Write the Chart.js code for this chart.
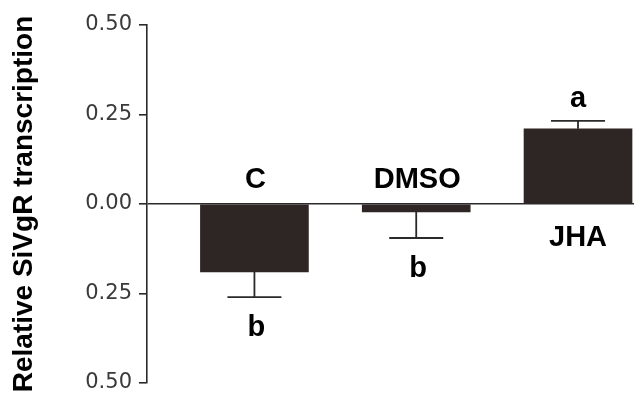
<!DOCTYPE html>
<html>
<head>
<meta charset="utf-8">
<script src="https://cdn.jsdelivr.net/npm/chart.js@4/dist/chart.umd.min.js"></script>
<style>
  html, body { margin: 0; padding: 0; background: #fff; }
  #wrap { width: 634px; height: 404px; }
</style>
</head>
<body>
<div id="wrap"><canvas id="barChart" width="634" height="404"></canvas></div>
<script>
const categories = ["C", "DMSO", "JHA"];
const meanValues = [-0.19, -0.022, 0.21];
const errorValues = [0.07, 0.073, 0.022];
const letters = ["b", "b", "a"];
const tickLabels = ["0.50", "0.25", "0.00", "0.25", "0.50"];

const barColor = "#2d2624";
const inkColor = "#2a2a2a";

// error bars, group names and significance letters
const annotations = {
    id: "annotations",
    afterDatasetsDraw(chart) {
        const { ctx, scales: { x, y } } = chart;
        ctx.save();
        categories.forEach((name, i) => {
            const cx = x.getPixelForValue(i);
            const v = meanValues[i];
            const sign = v < 0 ? -1 : 1;
            const yBar = y.getPixelForValue(v);
            const yErr = y.getPixelForValue(v + sign * errorValues[i]);
            const yZero = y.getPixelForValue(0);

            ctx.strokeStyle = inkColor;
            ctx.lineWidth = 1.8;
            ctx.beginPath();
            ctx.moveTo(cx, yBar);
            ctx.lineTo(cx, yErr);
            ctx.moveTo(cx - 27, yErr);
            ctx.lineTo(cx + 27, yErr);
            ctx.stroke();

            ctx.fillStyle = "#000";
            ctx.textAlign = "center";
            ctx.textBaseline = "alphabetic";
            ctx.font = "bold 29px 'Liberation Sans', Arial, sans-serif";
            // group name sits on the other side of the zero line
            if (sign < 0) {
                ctx.fillText(name, cx + 1, yZero - 16);
                ctx.fillText(letters[i], cx + 2, yErr + 39);
            } else {
                ctx.fillText(name, cx, yZero + 42);
                ctx.fillText(letters[i], cx, yErr - 14);
            }
        });
        ctx.restore();
    }
};

new Chart(document.getElementById("barChart"), {
    type: "bar",
    data: {
        datasets: [{
            data: meanValues.map((v, i) => ({ x: i, y: v })),
            backgroundColor: barColor,
            borderWidth: 0,
            barThickness: 108
        }]
    },
    options: {
        responsive: false,
        animation: false,
        layout: { padding: { top: 25, bottom: 21, left: 0, right: 0 } },
        plugins: { legend: { display: false }, tooltip: { enabled: false } },
        scales: {
            x: {
                type: "linear",
                display: false,
                offset: false,
                min: -0.664,
                max: 2.346
            },
            y: {
                min: -0.5,
                max: 0.5,
                afterFit: (scale) => { scale.width = 147; },
                ticks: {
                    stepSize: 0.25,
                    padding: 7,
                    color: "#3a3a3a",
                    font: { family: "'DejaVu Sans', sans-serif", size: 21 },
                    callback: (value, index) => tickLabels[index]
                },
                grid: {
                    color: (c) => (c.tick && c.tick.value === 0 ? inkColor : "rgba(0,0,0,0)"),
                    lineWidth: 1.6,
                    tickColor: inkColor,
                    tickLength: 8
                },
                border: { display: true, color: inkColor, width: 1.6 },
                title: {
                    display: true,
                    text: "Relative SiVgR transcription",
                    color: "#000",
                    padding: { top: 7, bottom: 0 },
                    font: { family: "'Liberation Sans', Arial, sans-serif", size: 28, weight: "bold" }
                }
            }
        }
    },
    plugins: [annotations]
});
</script>
</body>
</html>
